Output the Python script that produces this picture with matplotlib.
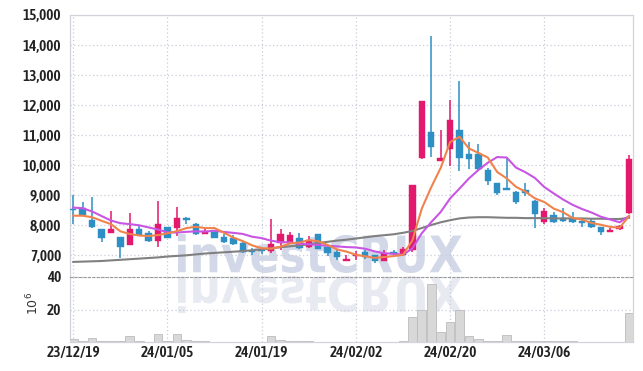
import matplotlib
matplotlib.use("Agg")
import matplotlib.pyplot as plt
from matplotlib.textpath import TextPath
from matplotlib.font_manager import FontProperties, fontManager
from matplotlib.patches import PathPatch
from matplotlib.transforms import Affine2D
import numpy as np

# ---------------- data ----------------
dates = ["23/12/19", "24/01/05", "24/01/19", "24/02/02", "24/02/20", "24/03/06"]
date_idx = [0, 10, 20, 30, 40, 50]

opens = [8520, 8560, 8170, 7870, 7750, 7600, 7340, 7870, 7720, 7480,
         7930, 7890, 8200, 8030, 7700, 7780, 7610, 7580, 7390, 7120,
         7140, 7130, 7390, 7440, 7560, 7280, 7690, 7280, 7110, 6800,
         6960, 7100, 7000, 6810, 7090, 7000, 7170, 10250, 11090, 10150,
         10520, 11170, 10360, 10360, 9830, 9390, 9200, 9110, 9170, 8800,
         8110, 8320, 8220, 8190, 8150, 8130, 7940, 7780, 7880, 8390]
highs = [9000, 8780, 8950, 7870, 8470, 7600, 8390, 8000, 7800, 8800,
         7950, 8590, 8280, 8080, 7910, 7830, 7690, 7670, 7420, 7220,
         7220, 8190, 7860, 7780, 7720, 7640, 7700, 7330, 7180, 6990,
         7140, 7170, 7000, 7170, 7170, 7280, 9340, 12140, 14300, 11170,
         12170, 12800, 10780, 10700, 9890, 9410, 10280, 9120, 9390, 8830,
         8560, 8440, 8560, 8440, 8230, 8220, 7950, 7900, 8000, 10330]
lows = [8050, 8300, 7890, 7450, 7740, 6890, 7330, 7640, 7420, 7260,
        7560, 7630, 8050, 7670, 7690, 7560, 7390, 7330, 7060, 7000,
        7040, 7060, 7170, 7420, 7200, 7240, 7190, 6980, 6850, 6790,
        6830, 6880, 6740, 6800, 7000, 6970, 7110, 10190, 10280, 10140,
        9980, 9800, 9870, 9830, 9330, 9000, 9170, 8700, 8970, 7910,
        8030, 8060, 8110, 8080, 7920, 7890, 7670, 7780, 7840, 8380]
closes = [8500, 8320, 7920, 7560, 7870, 7280, 7870, 7670, 7470, 8030,
          7580, 8220, 8180, 7700, 7810, 7580, 7440, 7370, 7110, 7100,
          7120, 7360, 7690, 7670, 7240, 7500, 7200, 7070, 6920, 6880,
          6980, 6930, 6810, 7060, 7040, 7190, 9330, 12130, 10610, 10250,
          11500, 10220, 10190, 9860, 9480, 9080, 9180, 8760, 9060, 8360,
          8470, 8090, 8150, 8110, 8080, 7920, 7780, 7800, 7970, 10190]
volumes = [2.0, 0.5, 2.6, 0.5, 0.8, 0.8, 3.9, 0.4, 0.1, 5.1,
           0.6, 4.7, 1.0, 0.4, 0.4, 0.1, 0.1, 0.1, 0.1, 0.1,
           0.1, 3.9, 1.0, 0.4, 0.4, 0.4, 0.1, 0.1, 0.1, 0.1,
           0.1, 0.1, 0.1, 0.3, 0.1, 0.4, 15.4, 19.4, 36.0, 6.0,
           12.3, 20.0, 3.5, 1.7, 0.9, 0.4, 4.1, 0.4, 0.8, 0.8,
           0.8, 0.4, 0.8, 0.4, 0.1, 0.1, 0.1, 0.1, 0.1, 17.6]
ma5 = [8310, 8310, 8260, 8140, 8030, 7790, 7700, 7650, 7632, 7664,
       7724, 7794, 7896, 7942, 7898, 7898, 7742, 7580, 7462, 7320,
       7228, 7212, 7276, 7388, 7416, 7492, 7460, 7336, 7186, 7114,
       7010, 6956, 6904, 6932, 6964, 7006, 7486, 8550, 9260, 9902,
       10764, 10942, 10554, 10404, 10250, 9766, 9558, 9272, 9112, 8888,
       8766, 8548, 8426, 8236, 8180, 8070, 8008, 7938, 7910, 8300]
ma10 = [8580, 8560, 8450, 8300, 8150, 8060, 8030, 7990, 7920, 7849,
        7757, 7747, 7773, 7787, 7781, 7811, 7768, 7738, 7702, 7609,
        7563, 7477, 7428, 7425, 7368, 7360, 7336, 7306, 7287, 7265,
        7251, 7208, 7120, 7059, 7039, 7008, 7221, 7727, 8096, 8433,
        8885, 9214, 9552, 9832, 10076, 10265, 10250, 9913, 9758, 9569,
        9266, 9053, 8849, 8674, 8534, 8418, 8278, 8182, 8091, 8300]
ma60 = [6770, 6780, 6790, 6800, 6820, 6840, 6860, 6880, 6900, 6920,
        6950, 6970, 6990, 7020, 7050, 7070, 7090, 7110, 7130, 7160,
        7190, 7220, 7260, 7290, 7320, 7360, 7400, 7440, 7480, 7510,
        7550, 7590, 7630, 7660, 7690, 7740, 7800, 7900, 8000, 8090,
        8160, 8220, 8250, 8260, 8260, 8250, 8240, 8240, 8230, 8230,
        8230, 8220, 8220, 8220, 8220, 8210, 8210, 8200, 8200, 8240]
price_ticks = [7000, 8000, 9000, 10000, 11000, 12000, 13000, 14000, 15000]
vol_ticks = [20, 40]

# ---------------- style ----------------
W, H = 643, 371
RED = "#e2196c"
BLUE = "#2d8fc4"
ORANGE = "#f0834d"
PURPLE = "#c855e3"
GRAY = "#808080"
GRID = "#c9ccd9"


def pick_condensed_font():
    files = [f for f in fontManager.ttflist
             if ("condensed" in f.fname.lower() or "narrow" in f.fname.lower()
                 or str(f.stretch).lower() in ("condensed", "semi-condensed", "extra-condensed"))]
    if not files:
        return None
    def score(f):
        w = f.weight if isinstance(f.weight, int) else (700 if "bold" in str(f.weight).lower() else 400)
        s = 0 if ("oblique" in f.fname.lower() or "italic" in f.fname.lower()) else 10
        return s - abs(w - 600) / 100
    files.sort(key=score, reverse=True)
    return FontProperties(fname=files[0].fname)


tick_fp = pick_condensed_font()
if tick_fp is None:
    tick_fp = FontProperties(family="DejaVu Sans", weight="bold")
    tick_size = 9
else:
    tick_size = 11
tick_fp.set_size(tick_size)

fig = plt.figure(figsize=(W / 100, H / 100), dpi=100)
fig.patch.set_facecolor("white")

left = 69.5 / W
width = (633.3 - 69.5) / W
ax = fig.add_axes([left, (H - 277) / H, width, (277 - 15) / H])
axv = fig.add_axes([left, (H - 342) / H, width, (342 - 277) / H], sharex=ax)
for a in (ax, axv):
    a.set_facecolor("none")

# ---------------- watermark ----------------
fp = FontProperties(family="DejaVu Sans", weight="bold")
tp = TextPath((0, 0), "investCRUX", size=100, prop=fp)
ext = tp.get_extents()
x0, x1 = 178, 462
ytop, ybase = 234, 273
sx = (x1 - x0) / ext.width
sy = (ybase - ytop) / ext.height
tr = Affine2D().translate(-ext.x0, -ext.y0).scale(sx, sy).translate(x0, H - ybase)
fig.patches.append(PathPatch(tp, transform=tr, facecolor="#d3d8e8", edgecolor="none", zorder=-5))
tr2 = Affine2D().translate(-ext.x0, -ext.y0).scale(sx, -sy * 0.95).translate(x0, H - 276)
fig.patches.append(PathPatch(tp, transform=tr2, facecolor="#e8eaf2", edgecolor="none", zorder=-5))

# ---------------- candles ----------------
x = np.arange(len(closes))
o = np.array(opens); c = np.array(closes)
hi = np.array(highs); lo = np.array(lows)
up = c >= o
cols = np.where(up, RED, BLUE)
body_bottom = np.minimum(o, c)
body_h = np.maximum(np.abs(c - o), 45)
ax.vlines(x, lo, hi, colors=cols, linewidth=1.1, zorder=3)
ax.bar(x, body_h, bottom=body_bottom, width=0.68, color=cols, edgecolor=cols, linewidth=0.3, zorder=4)

ax.plot(x, ma60, color=GRAY, lw=1.5, zorder=5)
ax.plot(x, ma10, color=PURPLE, lw=1.5, zorder=5)
ax.plot(x, ma5, color=ORANGE, lw=1.5, zorder=5)

# ---------------- volume ----------------
axv.bar(x, volumes, width=0.92, color="#d8d8d8", edgecolor="#bcbcbc", linewidth=0.6, zorder=3)

# ---------------- axes ----------------
ax.set_xlim(-0.4, 59.45)
ax.set_ylim(6267, 15000)
axv.set_ylim(0, 40)

ax.set_yticks(price_ticks)
ax.set_yticklabels([f"{v:,}" for v in price_ticks])
axv.set_yticks(vol_ticks)
axv.set_yticklabels([str(v) for v in vol_ticks])
axv.set_xticks(date_idx)
axv.set_xticklabels(dates)
ax.tick_params(axis="x", labelbottom=False, length=0)

for a in (ax, axv):
    a.tick_params(axis="both", length=0, labelcolor="#222222", pad=6)
    for lab in a.get_yticklabels() + a.get_xticklabels():
        lab.set_fontproperties(tick_fp)
    a.grid(True, color=GRID, linestyle=(0, (1, 2)), linewidth=0.9, zorder=0)
    a.set_axisbelow(True)
    for s in a.spines.values():
        s.set_color("#d2d4dc")
        s.set_linewidth(0.9)

ax.spines["bottom"].set_visible(False)
axv.spines["top"].set_color("#9a9a9a")
axv.spines["top"].set_linestyle((0, (2, 2)))
axv.spines["top"].set_linewidth(0.8)
axv.tick_params(axis="x", pad=3)

fig.text(0.052, (H - 303) / H, r"$10^6$", rotation=90, ha="center", va="center",
         fontsize=9, color="#333333")

fig.savefig("out.png", dpi=100, facecolor="white")
